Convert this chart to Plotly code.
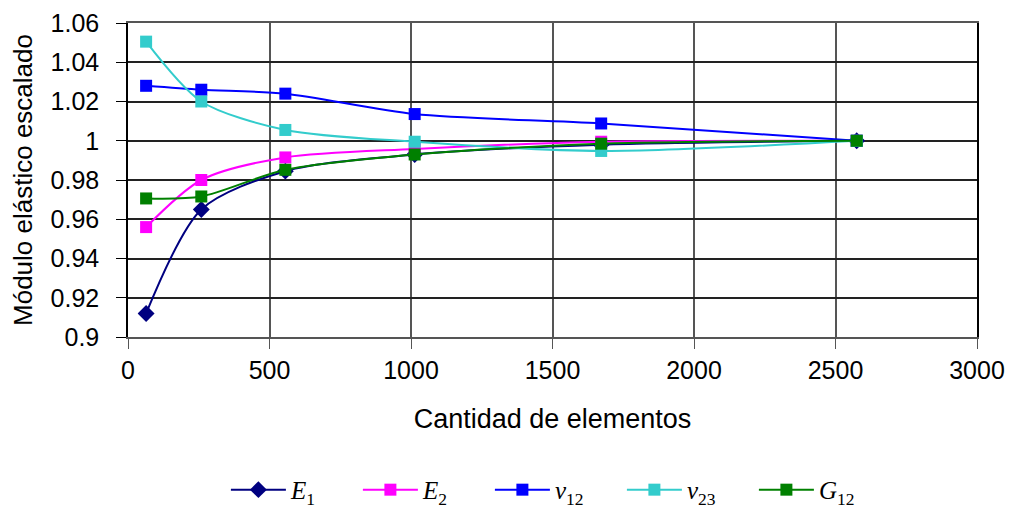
import plotly.graph_objects as go

elements = [64, 259, 556, 1013, 1672, 2575]
E1 = [0.912, 0.965, 0.9845, 0.993, 0.998, 1.0]
E2 = [0.956, 0.980, 0.9915, 0.9958, 0.9995, 1.0]
nu12 = [1.028, 1.026, 1.024, 1.0136, 1.0088, 1.0]
nu23 = [1.0505, 1.020, 1.0055, 0.9995, 0.9948, 1.0]
G12 = [0.9706, 0.9716, 0.9852, 0.9930, 0.9985, 1.0]

names = ["<i>E</i><sub>1</sub>", "<i>E</i><sub>2</sub>", "<i>ν</i><sub>12</sub>",
         "<i>ν</i><sub>23</sub>", "<i>G</i><sub>12</sub>"]
series = [E1, E2, nu12, nu23, G12]
colors = ["#000080", "#FF00FF", "#0000FF", "#33CCCC", "#008000"]
symbols = ["diamond", "square", "square", "square", "square"]

fig = go.Figure()
for nm, ys, c, s in zip(names, series, colors, symbols):
    fig.add_trace(go.Scatter(
        x=elements, y=ys, name=nm, mode="lines+markers",
        line=dict(color=c, width=2, shape="spline", smoothing=0.8),
        marker=dict(symbol=s, color=c, size=13 if s == "diamond" else 12,
                    line=dict(width=0)),
    ))

axis_font = dict(family="Liberation Sans, Arial", size=25, color="black")
fig.update_layout(
    width=1010, height=508,
    margin=dict(l=128, r=33, t=23, b=171, autoexpand=False),
    paper_bgcolor="white", plot_bgcolor="white",
    font=axis_font,
    xaxis=dict(range=[0, 3000], dtick=500, tick0=0,
               showgrid=True, gridcolor="#555555", gridwidth=1.5,
               showline=True, linecolor="#555555", linewidth=2, mirror=True,
               ticks="outside", ticklen=10, tickcolor="#555555",
               ticklabelstandoff=0,
               zeroline=False, tickfont=axis_font,
               title=dict(text="Cantidad de elementos",
                          font=dict(family="Liberation Sans, Arial", size=27, color="black"),
                          standoff=26)),
    yaxis=dict(range=[0.9, 1.06], dtick=0.02, tick0=0.9,
               showgrid=True, gridcolor="#222222", gridwidth=1.5,
               showline=True, linecolor="black", linewidth=1.5, mirror=True,
               ticks="outside", ticklen=10, tickcolor="black",
               ticklabelstandoff=12,
               zeroline=False, tickfont=axis_font, tickformat="~g",
               title=dict(text="Módulo elástico escalado",
                          font=dict(family="Liberation Sans, Arial", size=26, color="black"),
                          standoff=10)),
    legend=dict(orientation="h", x=0.504, xanchor="center", y=-0.487, yanchor="middle",
                font=dict(family="Liberation Serif, Times New Roman", size=25, color="black"),
                itemwidth=55, entrywidth=62, tracegroupgap=0),
    showlegend=True,
)

fig.write_html("out.html")
